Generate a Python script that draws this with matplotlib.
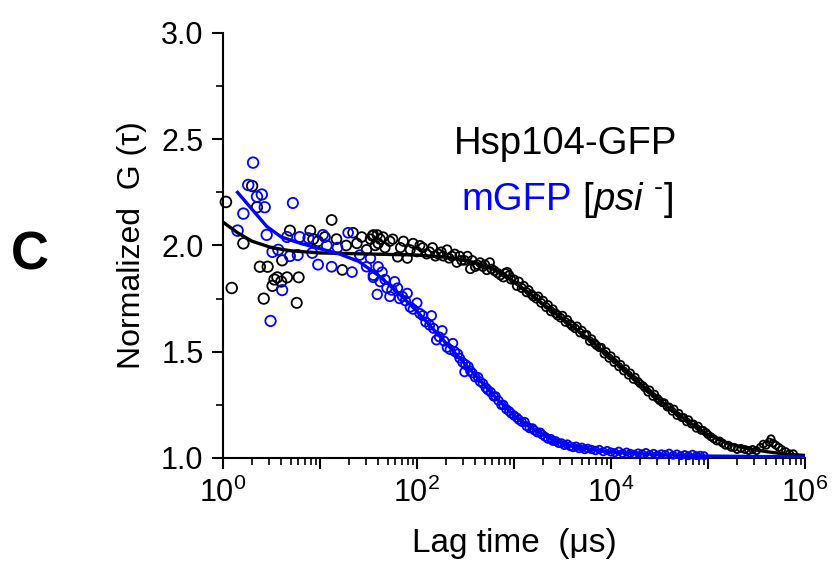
import numpy as np
import matplotlib
matplotlib.use("Agg")
import matplotlib.pyplot as plt
from matplotlib.ticker import FixedLocator, FuncFormatter, LogLocator, MultipleLocator
from matplotlib.offsetbox import TextArea, HPacker, AnchoredOffsetbox

plt.rcParams['font.family'] = ['Liberation Sans', 'DejaVu Sans']
plt.rcParams['mathtext.fontset'] = 'custom'
plt.rcParams['mathtext.rm'] = 'Liberation Sans'
plt.rcParams['mathtext.it'] = 'Liberation Sans:italic'

# Hsp104-GFP data points (log10 of lag time in us, normalized G)
hsp_logt = [0.03, 0.09, 0.21, 0.30, 0.35, 0.38, 0.42, 0.46, 0.51, 0.53, 0.56, 0.60,
            0.61, 0.66, 0.69, 0.76, 0.78, 0.90, 0.93, 0.98, 1.05, 1.12, 1.17, 1.23,
            1.27, 1.34, 1.38, 1.43, 1.48, 1.54, 1.55, 1.59, 1.60, 1.65, 1.72, 1.80,
            1.86, 1.90, 1.96, 2.00, 2.06, 2.10, 2.16, 2.22, 2.27, 2.31, 2.36, 2.41,
            2.46, 2.52, 2.55, 2.60, 2.65, 2.68, 2.72, 2.75, 2.80, 2.86, 2.89, 2.93,
            2.97,
            1.52, 1.57, 1.62, 1.67, 1.75, 1.83, 1.93, 2.03, 2.13, 2.19, 2.25, 2.33,
            2.39, 2.44, 2.49, 2.57, 2.62, 2.70, 2.77, 2.83, 2.91, 2.95,
            3.00, 3.03, 3.05, 3.08, 3.10, 3.13, 3.15, 3.18, 3.20, 3.23, 3.25, 3.28,
            3.30, 3.33, 3.35, 3.38, 3.40, 3.43, 3.45, 3.48, 3.50, 3.53, 3.55, 3.58,
            3.60, 3.63, 3.65, 3.68, 3.70, 3.73, 3.75, 3.78, 3.80, 3.83, 3.85, 3.88,
            3.90, 3.93, 3.95, 3.98, 4.00, 4.03, 4.05, 4.08, 4.10, 4.13, 4.15, 4.18,
            4.20, 4.23, 4.25, 4.28, 4.30, 4.33, 4.35, 4.38, 4.40, 4.43, 4.45, 4.48,
            4.50, 4.53, 4.55, 4.58, 4.60, 4.63, 4.65, 4.68, 4.70, 4.73, 4.75, 4.78,
            4.80, 4.83, 4.85, 4.88, 4.90, 4.93, 4.95, 4.98, 5.00, 5.03, 5.06, 5.09,
            5.12, 5.15, 5.18, 5.21, 5.24, 5.27, 5.30, 5.34, 5.38, 5.42, 5.46, 5.50,
            5.54, 5.57, 5.60, 5.63, 5.65, 5.67, 5.70, 5.73, 5.76, 5.80, 5.84, 5.88]
hsp_g = [2.205, 1.80, 2.01, 2.28, 2.18, 1.90, 1.75, 1.90, 1.81, 1.84, 1.85, 1.83,
         1.93, 1.85, 2.07, 1.73, 1.85, 2.07, 2.03, 2.02, 2.04, 2.12, 2.03, 1.885,
         2.00, 2.06, 2.01, 2.04, 1.98, 2.045, 2.05, 2.05, 2.01, 2.04, 2.02, 1.946,
         2.02, 1.94, 2.01, 1.97, 1.99, 1.96, 1.99, 1.96, 1.95, 1.98, 1.95, 1.92,
         1.93, 1.95, 1.89, 1.90, 1.92, 1.90, 1.885, 1.92, 1.88, 1.86, 1.85, 1.875,
         1.84,
         2.03, 2.00, 2.03, 1.99, 2.03, 1.99, 1.98, 2.00, 1.97, 1.95, 1.97, 1.94,
         1.96, 1.95, 1.93, 1.93, 1.91, 1.91, 1.89, 1.87, 1.87, 1.86,
         1.84, 1.81, 1.83, 1.80, 1.81, 1.78, 1.79, 1.77, 1.76, 1.75, 1.76, 1.73,
         1.74, 1.71, 1.72, 1.69, 1.70, 1.68, 1.67, 1.66, 1.67, 1.64, 1.65, 1.63,
         1.62, 1.61, 1.62, 1.59, 1.60, 1.58, 1.58, 1.55, 1.56, 1.54, 1.53, 1.52,
         1.52, 1.49, 1.50, 1.47, 1.48, 1.45, 1.46, 1.43, 1.44, 1.41, 1.42, 1.39,
         1.40, 1.37, 1.38, 1.36, 1.35, 1.34, 1.33, 1.31, 1.32, 1.29, 1.30, 1.28,
         1.27, 1.26, 1.26, 1.24, 1.24, 1.22, 1.23, 1.20, 1.21, 1.19, 1.19, 1.17,
         1.18, 1.16, 1.16, 1.14, 1.15, 1.13, 1.13, 1.12, 1.11, 1.10, 1.09, 1.08,
         1.08, 1.07, 1.06, 1.06, 1.05, 1.05, 1.04, 1.045, 1.04, 1.035, 1.04, 1.035,
         1.05, 1.065, 1.06, 1.075, 1.09, 1.07, 1.06, 1.05, 1.04, 1.03, 1.02, 1.02]

# mGFP [psi-] data points
mgfp_logt = [0.15, 0.21, 0.26, 0.31, 0.35, 0.40, 0.43, 0.45, 0.49, 0.51, 0.57, 0.61,
             0.66, 0.69, 0.72, 0.77, 0.79, 0.88, 0.92, 0.98, 1.03, 1.07, 1.12, 1.18,
             1.29, 1.33, 1.41, 1.48, 1.52, 1.55, 1.59, 1.55, 1.60, 1.64, 1.69, 1.72,
             1.77, 1.85, 1.90, 1.93, 2.00, 2.06, 2.13, 2.15, 2.20, 2.26, 2.31, 2.37,
             2.42, 2.47, 2.49,
             1.62, 1.67, 1.74, 1.80, 1.82, 1.88, 1.96, 2.03, 2.09, 2.17, 2.23, 2.28,
             2.34, 2.39, 2.44,
             2.50, 2.53, 2.55, 2.57, 2.60, 2.63, 2.65, 2.68, 2.71, 2.73, 2.76, 2.79,
             2.81, 2.84, 2.87, 2.89, 2.92, 2.95, 2.97, 3.00, 3.03, 3.05, 3.08, 3.11,
             3.13, 3.16, 3.19, 3.21, 3.24, 3.27, 3.29, 3.32, 3.35, 3.38, 3.40, 3.43,
             3.46, 3.49, 3.52, 3.55, 3.58, 3.61, 3.64, 3.67, 3.70, 3.73, 3.76, 3.80,
             3.84, 3.88, 3.92, 3.96, 4.00, 4.04, 4.08, 4.12, 4.16, 4.20, 4.24, 4.28,
             4.32, 4.36, 4.40, 4.44, 4.48, 4.52, 4.56, 4.60, 4.64, 4.68, 4.72, 4.76,
             4.80, 4.84, 4.88, 4.92, 4.96]
mgfp_g = [2.07, 2.15, 2.285, 2.39, 2.23, 2.24, 2.18, 2.05, 1.645, 1.97, 1.98, 1.79,
          2.04, 1.95, 2.20, 1.955, 2.04, 2.035, 1.965, 1.91, 2.05, 2.00, 1.90, 1.99,
          2.06, 1.875, 1.955, 1.90, 1.94, 1.86, 1.77, 1.85, 1.90, 1.875, 1.80, 1.76,
          1.83, 1.76, 1.775, 1.71, 1.73, 1.67, 1.625, 1.67, 1.555, 1.60, 1.52, 1.54,
          1.49, 1.45, 1.405,
          1.83, 1.84, 1.79, 1.80, 1.75, 1.74, 1.70, 1.68, 1.64, 1.61, 1.57, 1.55,
          1.51, 1.50, 1.47,
          1.44, 1.43, 1.41, 1.40, 1.38, 1.38, 1.36, 1.35, 1.33, 1.32, 1.31, 1.29,
          1.29, 1.27, 1.25, 1.25, 1.23, 1.22, 1.21, 1.20, 1.19, 1.18, 1.17, 1.17,
          1.15, 1.14, 1.14, 1.13, 1.12, 1.12, 1.11, 1.10, 1.09, 1.09, 1.08, 1.08,
          1.07, 1.07, 1.06, 1.065, 1.055, 1.05, 1.055, 1.045, 1.05, 1.04, 1.045, 1.04,
          1.035, 1.04, 1.03, 1.035, 1.028, 1.025, 1.032, 1.022, 1.028, 1.022, 1.018,
          1.024, 1.02, 1.026, 1.017, 1.022, 1.014, 1.02, 1.017, 1.023, 1.013, 1.019,
          1.011, 1.016, 1.011, 1.018, 1.011, 1.013, 1.011]

# fit curves
hsp_fit_logt = [0.0, 0.15, 0.3, 0.5, 0.7, 1.0, 1.5, 2.0, 2.3, 2.6, 2.8, 3.0, 3.2,
                3.4, 3.6, 3.8, 4.0, 4.2, 4.4, 4.6, 4.8, 5.0, 5.2, 5.4, 5.6, 5.8, 6.0]
hsp_fit_g = [2.11, 2.06, 2.02, 1.99, 1.975, 1.965, 1.96, 1.955, 1.945, 1.92, 1.885,
             1.83, 1.76, 1.69, 1.62, 1.55, 1.47, 1.39, 1.31, 1.235, 1.17, 1.11,
             1.07, 1.045, 1.03, 1.018, 1.012]
mgfp_fit_logt = [0.15, 0.3, 0.45, 0.6, 0.8, 1.0, 1.2, 1.4, 1.6, 1.8, 2.0, 2.2, 2.4,
                 2.6, 2.8, 3.0, 3.2, 3.4, 3.6, 3.8, 4.0, 4.5, 5.0, 6.0]
mgfp_fit_g = [2.25, 2.17, 2.09, 2.04, 2.01, 1.985, 1.96, 1.925, 1.86, 1.78, 1.69,
              1.59, 1.49, 1.39, 1.29, 1.20, 1.135, 1.085, 1.055, 1.04, 1.028, 1.016,
              1.009, 1.005]

xticks = [1, 1e1, 1e2, 1e3, 1e4, 1e5, 1e6]
blue = '#0000ff'

fig = plt.figure(figsize=(8.34, 5.65), dpi=100)
ax = fig.add_axes([0.2674, 0.1894, 0.6978, 0.7522])

def msize(logt):
    # markers look smaller where the points pile up
    return np.clip(60 - 8.0 * np.asarray(logt), 26, 60)

ax.scatter(10 ** np.array(hsp_logt), hsp_g, s=msize(hsp_logt), facecolors='none',
           edgecolors='black', linewidths=1.3, zorder=3, clip_on=False)
ax.scatter(10 ** np.array(mgfp_logt), mgfp_g, s=msize(mgfp_logt), facecolors='none',
           edgecolors=blue, linewidths=1.3, zorder=3, clip_on=False)
ax.plot(10 ** np.array(hsp_fit_logt), hsp_fit_g, color='black', lw=2.4, zorder=4)
ax.plot(10 ** np.array(mgfp_fit_logt), mgfp_fit_g, color=blue, lw=2.4, zorder=4)

ax.set_xscale('log')
ax.set_xlim(1, 1e6)
ax.set_ylim(1.0, 3.0)
ax.xaxis.set_major_locator(FixedLocator(xticks))
ax.xaxis.set_major_formatter(FuncFormatter(
    lambda v, p: r'$10^{%d}$' % round(np.log10(v)) if round(np.log10(v)) % 2 == 0 else ''))
ax.xaxis.set_minor_locator(LogLocator(base=10, subs=np.arange(2, 10), numticks=20))
ax.xaxis.set_minor_formatter(FuncFormatter(lambda v, p: ''))
ax.yaxis.set_major_locator(MultipleLocator(0.5))
ax.yaxis.set_minor_locator(MultipleLocator(0.25))
ax.yaxis.set_major_formatter(FuncFormatter(lambda v, p: '%.1f' % v))

for s in ['top', 'right']:
    ax.spines[s].set_visible(False)
for s in ['left', 'bottom']:
    ax.spines[s].set_linewidth(1.5)
ax.tick_params(which='major', direction='out', length=8, width=1.5, labelsize=22, pad=6)
ax.tick_params(which='minor', direction='out', length=5, width=1.2)

ax.set_xlabel(u'Lag time  (\u03bcs)', fontsize=24, labelpad=14)
ax.set_ylabel(u'Normalized  G (\u03c4)', fontsize=23, labelpad=10)

ax.text(0.588, 0.738, 'Hsp104-GFP', transform=ax.transAxes, fontsize=27.5,
        ha='center', va='center', color='black')
line2 = HPacker(children=[TextArea('mGFP', textprops=dict(color=blue, fontsize=27.5)),
                          TextArea(r' [$psi$ $^{\text{-}}$]',
                                   textprops=dict(color='black', fontsize=27.5))],
                align='baseline', pad=0, sep=0)
ab = AnchoredOffsetbox(loc='center', child=line2, frameon=False, pad=0, borderpad=0,
                       bbox_to_anchor=(0.592, 0.608), bbox_transform=ax.transAxes)
ax.add_artist(ab)

fig.text(0.036, 0.548, 'C', fontsize=38, fontweight='bold', ha='center', va='center')

fig.savefig('out.png', dpi=100)
